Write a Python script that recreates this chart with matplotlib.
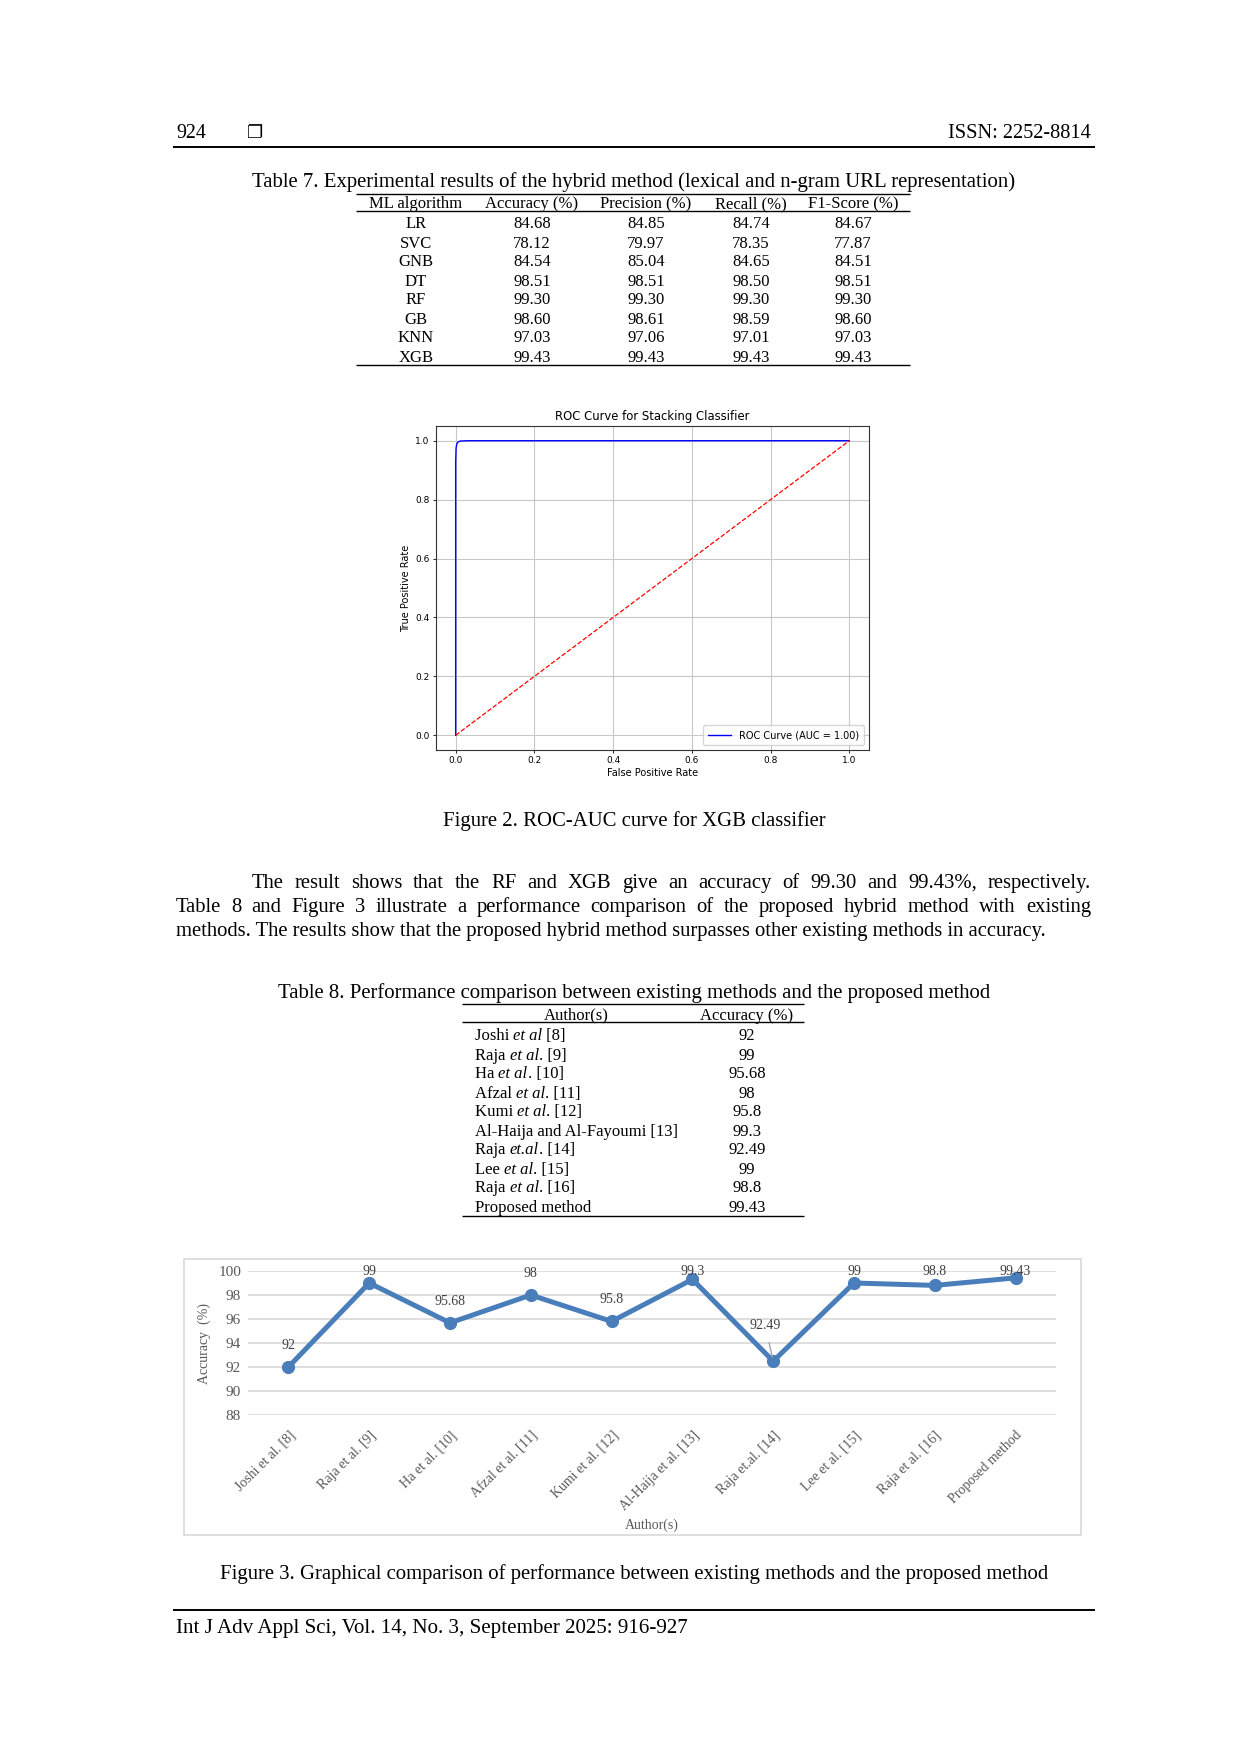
import matplotlib
matplotlib.use("Agg")
import matplotlib.pyplot as plt
from matplotlib.patches import Rectangle

W, H = 1240, 1754
SERIF = "Liberation Serif"
TY = 3.5  # text sits a little lower than its nominal row centre

# ---- Table 7 data ----
t7_columns = ["ML algorithm", "Accuracy (%)", "Precision (%)", "Recall (%)", "F1-Score (%)"]
t7_algorithms = ["LR", "SVC", "GNB", "DT", "RF", "GB", "KNN", "XGB"]
t7_accuracy = ["84.68", "78.12", "84.54", "98.51", "99.30", "98.60", "97.03", "99.43"]
t7_precision = ["84.85", "79.97", "85.04", "98.51", "99.30", "98.61", "97.06", "99.43"]
t7_recall = ["84.74", "78.35", "84.65", "98.50", "99.30", "98.59", "97.01", "99.43"]
t7_f1 = ["84.67", "77.87", "84.51", "98.51", "99.30", "98.60", "97.03", "99.43"]

# ---- ROC curve points ----
roc_fpr = [0.0, 0.0, 0.001, 0.003, 0.006, 0.012, 0.03, 1.0]
roc_tpr = [0.0, 0.93, 0.975, 0.99, 0.996, 0.999, 1.0, 1.0]

# ---- Table 8 data (author name runs: (text, italic)) ----
t8_authors = [
    [("Joshi ", False), ("et al", True), (" [8]", False)],
    [("Raja ", False), ("et al", True), (". [9]", False)],
    [("Ha ", False), ("et al", True), (". [10]", False)],
    [("Afzal ", False), ("et al", True), (". [11]", False)],
    [("Kumi ", False), ("et al", True), (". [12]", False)],
    [("Al-Haija and Al-Fayoumi [13]", False)],
    [("Raja ", False), ("et.al", True), (". [14]", False)],
    [("Lee ", False), ("et al", True), (". [15]", False)],
    [("Raja ", False), ("et al", True), (". [16]", False)],
    [("Proposed method", False)],
]
t8_accuracy = ["92", "99", "95.68", "98", "95.8", "99.3", "92.49", "99", "98.8", "99.43"]

# ---- Figure 3 data ----
fig3_labels = ["Joshi et al. [8]", "Raja et al. [9]", "Ha et al. [10]", "Afzal et al. [11]",
               "Kumi et al. [12]", "Al-Haija et al. [13]", "Raja et.al. [14]", "Lee et al. [15]",
               "Raja et al. [16]", "Proposed method"]
fig3_values = [92, 99, 95.68, 98, 95.8, 99.3, 92.49, 99, 98.8, 99.43]

paragraph = [
    "The result shows that the RF and XGB give an accuracy of 99.30 and 99.43%, respectively.",
    "Table 8 and Figure 3 illustrate a performance comparison of the proposed hybrid method with existing",
    "methods. The results show that the proposed hybrid method surpasses other existing methods in accuracy.",
]

fig = plt.figure(figsize=(W / 100, H / 100), dpi=100)
page = fig.add_axes([0, 0, 1, 1])
page.set_xlim(0, W)
page.set_ylim(H, 0)
page.axis("off")
renderer = fig.canvas.get_renderer()


def text_width(s, **kw):
    t = page.text(0, 0, s + "|", **kw)
    bar = page.text(0, 0, "|", **kw)
    w = t.get_window_extent(renderer).width - bar.get_window_extent(renderer).width
    t.remove()
    bar.remove()
    return w


def put(x, y, s, size, ha="left", **kw):
    page.text(x, y + TY, s, fontsize=size, family=SERIF, ha=ha, va="center", **kw)


def fit_text(x, y, s, target_w, size=14, ha="left", **kw):
    w = text_width(s, fontsize=size, family=SERIF, **kw)
    size = size * target_w / w
    put(x, y, s, size, ha=ha, **kw)
    return size


def rule(x0, x1, y, lw=1.0):
    page.plot([x0, x1], [y, y], color="black", lw=lw, solid_capstyle="butt")


def runs(x, y, parts, size):
    for s, italic in parts:
        style = "italic" if italic else "normal"
        put(x, y, s, size, style=style)
        x += text_width(s, fontsize=size, family=SERIF, style=style)


def justify(x0, x1, y, line, size):
    words = line.split()
    widths = [text_width(w, fontsize=size, family=SERIF) for w in words]
    gap = (x1 - x0 - sum(widths)) / (len(words) - 1)
    x = x0
    for w, wd in zip(words, widths):
        put(x, y, w, size)
        x += wd + gap


# ---- page header ----
fit_text(176, 130, "924", 30)
page.text(255, 130 + TY, "\u2750", fontsize=13, family="DejaVu Sans", ha="center", va="center")
fit_text(1091, 130, "ISSN: 2252-8814", 144, ha="right")
rule(173, 1095, 147, lw=1.4)

# ---- Table 7 ----
fit_text(634, 179, "Table 7. Experimental results of the hybrid method (lexical and n-gram URL representation)",
         770, ha="center")
rule(356, 910, 194)
col_x = [416, 532, 646, 751, 853]
t7_size = 12
for cx, head in zip(col_x, t7_columns):
    put(cx, 201, head, t7_size, ha="center")
rule(356, 910, 211)
t7_cols = [t7_algorithms, t7_accuracy, t7_precision, t7_recall, t7_f1]
for i in range(len(t7_algorithms)):
    y = 221 + i * 19
    for cx, col in zip(col_x, t7_cols):
        put(cx, y, col[i], t7_size, ha="center")
rule(356, 910, 365)

# ---- Figure 2: ROC curve ----
roc = fig.add_axes([436 / W, 1 - 750 / H, (869 - 436) / W, (750 - 426) / H])
roc.plot(roc_fpr, roc_tpr, color="blue", lw=1.0, label="ROC Curve (AUC = 1.00)")
roc.plot([0, 1], [0, 1], color="red", ls="--", lw=0.9)
roc.set_title("ROC Curve for Stacking Classifier", fontsize=8.4, pad=4)
roc.set_xlabel("False Positive Rate", fontsize=7, labelpad=2)
roc.set_ylabel("True Positive Rate", fontsize=7, labelpad=3)
roc.tick_params(labelsize=6.5, length=2.5, width=0.6, pad=2)
roc.grid(True, color="#c8c8c8", lw=0.8)
for sp in roc.spines.values():
    sp.set_linewidth(0.8)
    sp.set_color("#333333")
roc.legend(loc="lower right", fontsize=7, handlelength=2.4, borderpad=0.5)

fit_text(634, 818, "Figure 2. ROC-AUC curve for XGB classifier", 384, ha="center")

# ---- paragraph ----
body_size = 14
last_w = text_width(paragraph[2], fontsize=body_size, family=SERIF)
body_size = body_size * 881 / last_w
justify(252, 1091, 880, paragraph[0], body_size)
justify(176, 1091, 904, paragraph[1], body_size)
put(176, 928, paragraph[2], body_size)

# ---- Table 8 ----
fit_text(634, 990, "Table 8. Performance comparison between existing methods and the proposed method",
         717, ha="center")
t8_size = 12
rule(462, 804, 1004)
put(576, 1012, "Author(s)", t8_size, ha="center")
put(747, 1012, "Accuracy (%)", t8_size, ha="center")
rule(462, 804, 1022)
for i, (parts, acc) in enumerate(zip(t8_authors, t8_accuracy)):
    y = 1033 + i * 19
    runs(475, y, parts, t8_size)
    put(747, y, acc, t8_size, ha="center")
rule(462, 804, 1216)

# ---- Figure 3: line chart ----
page.add_patch(Rectangle((184, 1259), 1081 - 184, 1535 - 1259, fill=False,
                         edgecolor="#d9d9d9", lw=1.2))
ax = fig.add_axes([248 / W, 1 - 1415 / H, (1056 - 248) / W, (1415 - 1271) / H])
xs = list(range(len(fig3_values)))
ax.plot(xs, fig3_values, color="#4a7ebb", lw=3.6, marker="o", markersize=8.5, zorder=3)
ax.set_xlim(-0.5, len(fig3_values) - 0.5)
ax.set_ylim(88, 100)
ax.set_yticks(range(88, 101, 2))
ax.grid(axis="y", color="#d9d9d9", lw=1.2)
ax.set_axisbelow(True)
for sp in ax.spines.values():
    sp.set_visible(False)
ax.tick_params(axis="y", length=0, pad=5, labelsize=11, labelcolor="#595959")
ax.tick_params(axis="x", length=0, pad=10)
for lab in ax.get_yticklabels():
    lab.set_family(SERIF)
ax.set_xticks(xs)
ax.set_xticklabels(fig3_labels, rotation=45, ha="right", va="top", rotation_mode="anchor",
                   family=SERIF, fontsize=10, color="#595959")
ax.set_ylabel("Accuracy  (%)", family=SERIF, fontsize=10, color="#595959", labelpad=5)
ax.set_xlabel("Author(s)", family=SERIF, fontsize=10, color="#595959", labelpad=4)

for x, v in zip(xs, fig3_values):
    lab = f"{v:g}"
    if lab == "92.49":
        ax.annotate(lab, xy=(x, v), xytext=(x - 0.1, v + 3.0), ha="center", va="center",
                    family=SERIF, fontsize=10, color="#404040", annotation_clip=False,
                    arrowprops=dict(arrowstyle="-", color="#a6a6a6", lw=1.0, shrinkA=6, shrinkB=3))
    else:
        ax.text(x, min(v + 1.8, 99.95), lab, ha="center", va="center", family=SERIF,
                fontsize=10, color="#404040", clip_on=False, zorder=4)

fit_text(634, 1571, "Figure 3. Graphical comparison of performance between existing methods and the proposed method",
         834, ha="center")

# ---- footer ----
rule(173, 1095, 1610, lw=1.4)
fit_text(176, 1625, "Int J Adv Appl Sci, Vol. 14, No. 3, September 2025: 916-927", 513)

fig.savefig("out.png", dpi=100)
